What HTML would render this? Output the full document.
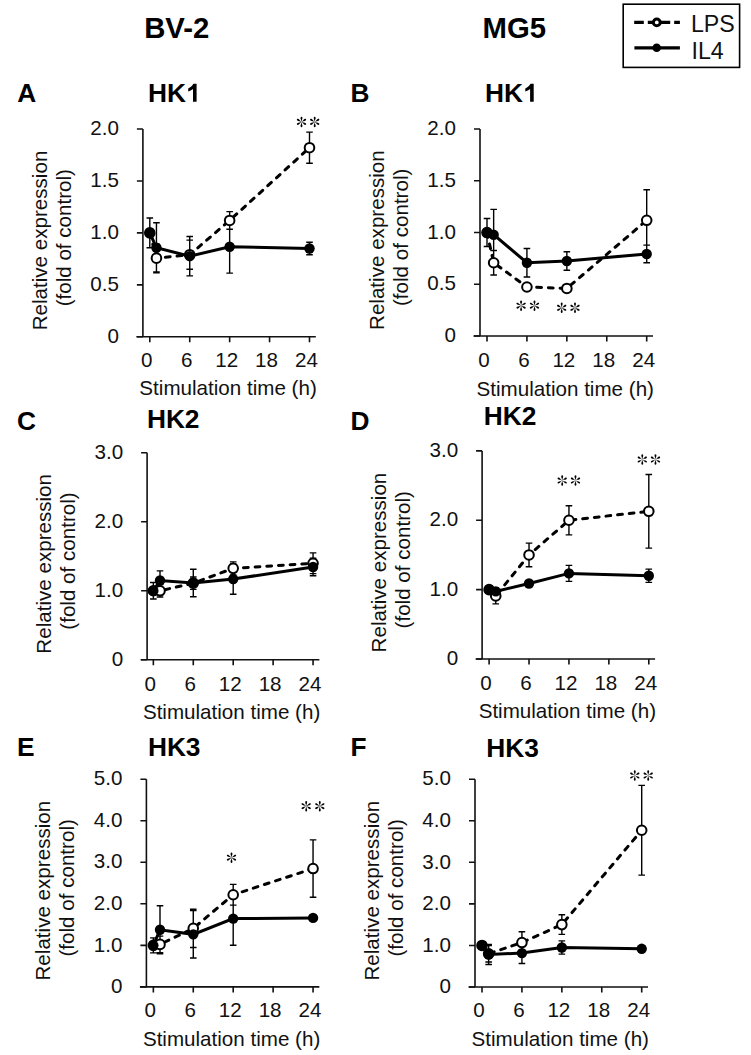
<!DOCTYPE html>
<html><head><meta charset="utf-8">
<style>
html,body{margin:0;padding:0;background:#fff;}
svg{display:block;}
text{font-family:"Liberation Sans",sans-serif;font-size:20.6px;fill:#111;}
text.b{font-weight:bold;font-size:26.3px;fill:#000;}
text.h{font-weight:bold;font-size:29.3px;fill:#000;}
text.lg{font-size:23.2px;}
.ax{fill:none;stroke:#111;stroke-width:1.6;}
.eb{fill:none;stroke:#000;stroke-width:1.4;}
.ld{fill:none;stroke:#000;stroke-width:3;stroke-dasharray:4.8,6.9;stroke-linecap:round;}
.ls{fill:none;stroke:#000;stroke-width:3;}
.mo{fill:#fff;stroke:#000;stroke-width:2;}
.mf{fill:#000;}
</style></head><body>
<svg width="751" height="1055" viewBox="0 0 751 1055">
<rect width="751" height="1055" fill="#fff"/>

<text class="h" x="144.21" y="38.2">BV-2</text>
<text class="h" x="482.51" y="38.2">MG5</text>
<rect x="623.2" y="4.2" width="116.4" height="63.2" fill="none" stroke="#000" stroke-width="1.6"/>
<path d="M634.2,22.4H643.8M647.8,22.4H670.2M674.2,22.4H679.9" stroke="#000" stroke-width="3.3"/>
<circle cx="656.8" cy="22.4" r="3.4" fill="#fff" stroke="#000" stroke-width="3"/>
<path d="M634.4,47.9H679.9" stroke="#000" stroke-width="3.2"/>
<circle cx="656.7" cy="47.8" r="4.3" fill="#000"/>
<text class="lg" x="690.89" y="31.6">LPS</text>
<text class="lg" x="691.49" y="59.3">IL4</text>

<path class="ax" d="M142.9,129V336.8M136.4,336.8H315.8"/>
<path class="ax" d="M136.9,336.8H142.9M136.9,284.85H142.9M136.9,232.9H142.9M136.9,180.95H142.9M136.9,129H142.9M149.8,336.8v5.5M189.73,336.8v5.5M229.65,336.8v5.5M269.57,336.8v5.5M309.5,336.8v5.5"/>
<text x="118.9" y="343" text-anchor="end">0</text>
<text x="118.9" y="291.05" text-anchor="end">0.5</text>
<text x="118.9" y="239.1" text-anchor="end">1.0</text>
<text x="118.9" y="187.15" text-anchor="end">1.5</text>
<text x="118.9" y="135.2" text-anchor="end">2.0</text>
<text x="146.8" y="367.2" text-anchor="middle">0</text>
<text x="186.73" y="367.2" text-anchor="middle">6</text>
<text x="226.65" y="367.2" text-anchor="middle">12</text>
<text x="266.57" y="367.2" text-anchor="middle">18</text>
<text x="306.5" y="367.2" text-anchor="middle">24</text>
<text x="228.05" y="395.4" text-anchor="middle">Stimulation time (h)</text>
<text transform="translate(46.7,240.5) rotate(-90)" text-anchor="middle">Relative expression</text>
<text transform="translate(70.7,237.7) rotate(-90)" text-anchor="middle">(fold of control)</text>
<text class="b" x="147.9" y="101.8">HK</text>
<text class="b" x="17.2" y="101.8">A</text>
<path fill="#000" transform="translate(0,0)" d="M196.6,83.8V101.8H193V88.9C191.6,90.1 190,90.9 188.2,91.4V88.4C190.5,87.6 192.2,86.1 193.4,83.8Z"/>
<path class="eb" d="M149.8,218.04V247.76M146.5,218.04h6.6M146.5,247.76h6.6M156.45,244.23V272.07M153.15,244.23h6.6M153.15,272.07h6.6M189.73,240.17V269.26M186.43,240.17h6.6M186.43,269.26h6.6M229.65,211.6V229.26M226.35,211.6h6.6M226.35,229.26h6.6M309.5,132.12V163.29M306.2,132.12h6.6M306.2,163.29h6.6M149.8,218.04V247.76M146.5,218.04h6.6M146.5,247.76h6.6M156.45,222.82V272.69M153.15,222.82h6.6M153.15,272.69h6.6M189.73,236.43V275.91M186.43,236.43h6.6M186.43,275.91h6.6M229.65,220.33V273.11M226.35,220.33h6.6M226.35,273.11h6.6M309.5,242.25V254.72M306.2,242.25h6.6M306.2,254.72h6.6"/>
<polyline class="ld" points="149.8,232.9 156.45,258.15 189.73,254.72 229.65,220.43 309.5,147.7"/>
<polyline class="ls" points="149.8,232.9 156.45,247.76 189.73,256.17 229.65,246.72 309.5,248.49"/>
<circle class="mo" cx="149.8" cy="232.9" r="4.8"/>
<circle class="mo" cx="156.45" cy="258.15" r="4.8"/>
<circle class="mo" cx="189.73" cy="254.72" r="4.8"/>
<circle class="mo" cx="229.65" cy="220.43" r="4.8"/>
<circle class="mo" cx="309.5" cy="147.7" r="4.8"/>
<circle class="mf" cx="149.8" cy="232.9" r="5.2"/>
<circle class="mf" cx="156.45" cy="247.76" r="5.2"/>
<circle class="mf" cx="189.73" cy="256.17" r="5.2"/>
<circle class="mf" cx="229.65" cy="246.72" r="5.2"/>
<circle class="mf" cx="309.5" cy="248.49" r="5.2"/>
<g transform="translate(301.5,121.9) scale(1.0)"><path d="M0,0 L-0.42,-2 C-1.3,-3.7 -1.05,-5.25 0,-5.25 C1.05,-5.25 1.3,-3.7 0.42,-2 Z" transform="rotate(0)"/><path d="M0,0 L-0.42,-2 C-1.3,-3.7 -1.05,-5.25 0,-5.25 C1.05,-5.25 1.3,-3.7 0.42,-2 Z" transform="rotate(60)"/><path d="M0,0 L-0.42,-2 C-1.3,-3.7 -1.05,-5.25 0,-5.25 C1.05,-5.25 1.3,-3.7 0.42,-2 Z" transform="rotate(120)"/><path d="M0,0 L-0.42,-2 C-1.3,-3.7 -1.05,-5.25 0,-5.25 C1.05,-5.25 1.3,-3.7 0.42,-2 Z" transform="rotate(180)"/><path d="M0,0 L-0.42,-2 C-1.3,-3.7 -1.05,-5.25 0,-5.25 C1.05,-5.25 1.3,-3.7 0.42,-2 Z" transform="rotate(240)"/><path d="M0,0 L-0.42,-2 C-1.3,-3.7 -1.05,-5.25 0,-5.25 C1.05,-5.25 1.3,-3.7 0.42,-2 Z" transform="rotate(300)"/></g>
<g transform="translate(314.7,121.9) scale(1.0)"><path d="M0,0 L-0.42,-2 C-1.3,-3.7 -1.05,-5.25 0,-5.25 C1.05,-5.25 1.3,-3.7 0.42,-2 Z" transform="rotate(0)"/><path d="M0,0 L-0.42,-2 C-1.3,-3.7 -1.05,-5.25 0,-5.25 C1.05,-5.25 1.3,-3.7 0.42,-2 Z" transform="rotate(60)"/><path d="M0,0 L-0.42,-2 C-1.3,-3.7 -1.05,-5.25 0,-5.25 C1.05,-5.25 1.3,-3.7 0.42,-2 Z" transform="rotate(120)"/><path d="M0,0 L-0.42,-2 C-1.3,-3.7 -1.05,-5.25 0,-5.25 C1.05,-5.25 1.3,-3.7 0.42,-2 Z" transform="rotate(180)"/><path d="M0,0 L-0.42,-2 C-1.3,-3.7 -1.05,-5.25 0,-5.25 C1.05,-5.25 1.3,-3.7 0.42,-2 Z" transform="rotate(240)"/><path d="M0,0 L-0.42,-2 C-1.3,-3.7 -1.05,-5.25 0,-5.25 C1.05,-5.25 1.3,-3.7 0.42,-2 Z" transform="rotate(300)"/></g>
<path class="ax" d="M480,129V336.05M473.5,336.05H653"/>
<path class="ax" d="M474,336.05H480M474,284.29H480M474,232.53H480M474,180.76H480M474,129H480M487,336.05v5.5M526.92,336.05v5.5M566.85,336.05v5.5M606.77,336.05v5.5M646.7,336.05v5.5"/>
<text x="456" y="342.25" text-anchor="end">0</text>
<text x="456" y="290.49" text-anchor="end">0.5</text>
<text x="456" y="238.72" text-anchor="end">1.0</text>
<text x="456" y="186.96" text-anchor="end">1.5</text>
<text x="456" y="135.2" text-anchor="end">2.0</text>
<text x="484" y="367.45" text-anchor="middle">0</text>
<text x="523.92" y="367.45" text-anchor="middle">6</text>
<text x="563.85" y="367.45" text-anchor="middle">12</text>
<text x="603.77" y="367.45" text-anchor="middle">18</text>
<text x="643.7" y="367.45" text-anchor="middle">24</text>
<text x="565.25" y="395.65" text-anchor="middle">Stimulation time (h)</text>
<text transform="translate(383.8,240.12) rotate(-90)" text-anchor="middle">Relative expression</text>
<text transform="translate(407.8,237.33) rotate(-90)" text-anchor="middle">(fold of control)</text>
<text class="b" x="484.9" y="101.8">HK</text>
<text class="b" x="350.6" y="101.8">B</text>
<path fill="#000" transform="translate(337.1,0)" d="M196.6,83.8V101.8H193V88.9C191.6,90.1 190,90.9 188.2,91.4V88.4C190.5,87.6 192.2,86.1 193.4,83.8Z"/>
<path class="eb" d="M487,218.55V246.5M483.7,218.55h6.6M483.7,246.5h6.6M493.65,250.54V274.97M490.35,250.54h6.6M490.35,274.97h6.6M526.92,283.87V290.08M523.62,283.87h6.6M523.62,290.08h6.6M566.85,286.36V290.5M563.55,286.36h6.6M563.55,290.5h6.6M646.7,189.77V250.85M643.4,189.77h6.6M643.4,250.85h6.6M487,218.55V246.5M483.7,218.55h6.6M483.7,246.5h6.6M493.65,209.34V260.06M490.35,209.34h6.6M490.35,260.06h6.6M526.92,248.57V276.94M523.62,248.57h6.6M523.62,276.94h6.6M566.85,251.68V270.31M563.55,251.68h6.6M563.55,270.31h6.6M646.7,245.16V262.75M643.4,245.16h6.6M643.4,262.75h6.6"/>
<polyline class="ld" points="487,232.53 493.65,262.75 526.92,286.98 566.85,288.43 646.7,220.31"/>
<polyline class="ls" points="487,232.53 493.65,234.7 526.92,262.75 566.85,260.99 646.7,253.95"/>
<circle class="mo" cx="487" cy="232.53" r="4.8"/>
<circle class="mo" cx="493.65" cy="262.75" r="4.8"/>
<circle class="mo" cx="526.92" cy="286.98" r="4.8"/>
<circle class="mo" cx="566.85" cy="288.43" r="4.8"/>
<circle class="mo" cx="646.7" cy="220.31" r="4.8"/>
<circle class="mf" cx="487" cy="232.53" r="5.2"/>
<circle class="mf" cx="493.65" cy="234.7" r="5.2"/>
<circle class="mf" cx="526.92" cy="262.75" r="5.2"/>
<circle class="mf" cx="566.85" cy="260.99" r="5.2"/>
<circle class="mf" cx="646.7" cy="253.95" r="5.2"/>
<g transform="translate(521.1,305.7) scale(1.0)"><path d="M0,0 L-0.42,-2 C-1.3,-3.7 -1.05,-5.25 0,-5.25 C1.05,-5.25 1.3,-3.7 0.42,-2 Z" transform="rotate(0)"/><path d="M0,0 L-0.42,-2 C-1.3,-3.7 -1.05,-5.25 0,-5.25 C1.05,-5.25 1.3,-3.7 0.42,-2 Z" transform="rotate(60)"/><path d="M0,0 L-0.42,-2 C-1.3,-3.7 -1.05,-5.25 0,-5.25 C1.05,-5.25 1.3,-3.7 0.42,-2 Z" transform="rotate(120)"/><path d="M0,0 L-0.42,-2 C-1.3,-3.7 -1.05,-5.25 0,-5.25 C1.05,-5.25 1.3,-3.7 0.42,-2 Z" transform="rotate(180)"/><path d="M0,0 L-0.42,-2 C-1.3,-3.7 -1.05,-5.25 0,-5.25 C1.05,-5.25 1.3,-3.7 0.42,-2 Z" transform="rotate(240)"/><path d="M0,0 L-0.42,-2 C-1.3,-3.7 -1.05,-5.25 0,-5.25 C1.05,-5.25 1.3,-3.7 0.42,-2 Z" transform="rotate(300)"/></g>
<g transform="translate(534.5,305.7) scale(1.0)"><path d="M0,0 L-0.42,-2 C-1.3,-3.7 -1.05,-5.25 0,-5.25 C1.05,-5.25 1.3,-3.7 0.42,-2 Z" transform="rotate(0)"/><path d="M0,0 L-0.42,-2 C-1.3,-3.7 -1.05,-5.25 0,-5.25 C1.05,-5.25 1.3,-3.7 0.42,-2 Z" transform="rotate(60)"/><path d="M0,0 L-0.42,-2 C-1.3,-3.7 -1.05,-5.25 0,-5.25 C1.05,-5.25 1.3,-3.7 0.42,-2 Z" transform="rotate(120)"/><path d="M0,0 L-0.42,-2 C-1.3,-3.7 -1.05,-5.25 0,-5.25 C1.05,-5.25 1.3,-3.7 0.42,-2 Z" transform="rotate(180)"/><path d="M0,0 L-0.42,-2 C-1.3,-3.7 -1.05,-5.25 0,-5.25 C1.05,-5.25 1.3,-3.7 0.42,-2 Z" transform="rotate(240)"/><path d="M0,0 L-0.42,-2 C-1.3,-3.7 -1.05,-5.25 0,-5.25 C1.05,-5.25 1.3,-3.7 0.42,-2 Z" transform="rotate(300)"/></g>
<g transform="translate(561.7,307.8) scale(1.0)"><path d="M0,0 L-0.42,-2 C-1.3,-3.7 -1.05,-5.25 0,-5.25 C1.05,-5.25 1.3,-3.7 0.42,-2 Z" transform="rotate(0)"/><path d="M0,0 L-0.42,-2 C-1.3,-3.7 -1.05,-5.25 0,-5.25 C1.05,-5.25 1.3,-3.7 0.42,-2 Z" transform="rotate(60)"/><path d="M0,0 L-0.42,-2 C-1.3,-3.7 -1.05,-5.25 0,-5.25 C1.05,-5.25 1.3,-3.7 0.42,-2 Z" transform="rotate(120)"/><path d="M0,0 L-0.42,-2 C-1.3,-3.7 -1.05,-5.25 0,-5.25 C1.05,-5.25 1.3,-3.7 0.42,-2 Z" transform="rotate(180)"/><path d="M0,0 L-0.42,-2 C-1.3,-3.7 -1.05,-5.25 0,-5.25 C1.05,-5.25 1.3,-3.7 0.42,-2 Z" transform="rotate(240)"/><path d="M0,0 L-0.42,-2 C-1.3,-3.7 -1.05,-5.25 0,-5.25 C1.05,-5.25 1.3,-3.7 0.42,-2 Z" transform="rotate(300)"/></g>
<g transform="translate(575,307.8) scale(1.0)"><path d="M0,0 L-0.42,-2 C-1.3,-3.7 -1.05,-5.25 0,-5.25 C1.05,-5.25 1.3,-3.7 0.42,-2 Z" transform="rotate(0)"/><path d="M0,0 L-0.42,-2 C-1.3,-3.7 -1.05,-5.25 0,-5.25 C1.05,-5.25 1.3,-3.7 0.42,-2 Z" transform="rotate(60)"/><path d="M0,0 L-0.42,-2 C-1.3,-3.7 -1.05,-5.25 0,-5.25 C1.05,-5.25 1.3,-3.7 0.42,-2 Z" transform="rotate(120)"/><path d="M0,0 L-0.42,-2 C-1.3,-3.7 -1.05,-5.25 0,-5.25 C1.05,-5.25 1.3,-3.7 0.42,-2 Z" transform="rotate(180)"/><path d="M0,0 L-0.42,-2 C-1.3,-3.7 -1.05,-5.25 0,-5.25 C1.05,-5.25 1.3,-3.7 0.42,-2 Z" transform="rotate(240)"/><path d="M0,0 L-0.42,-2 C-1.3,-3.7 -1.05,-5.25 0,-5.25 C1.05,-5.25 1.3,-3.7 0.42,-2 Z" transform="rotate(300)"/></g>
<path class="ax" d="M147.1,452.7V659.75M140.6,659.75H319.35"/>
<path class="ax" d="M141.1,659.75H147.1M141.1,590.73H147.1M141.1,521.72H147.1M141.1,452.7H147.1M153.35,659.75v5.5M193.27,659.75v5.5M233.2,659.75v5.5M273.12,659.75v5.5M313.05,659.75v5.5"/>
<text x="123.1" y="665.95" text-anchor="end">0</text>
<text x="123.1" y="596.93" text-anchor="end">1.0</text>
<text x="123.1" y="527.92" text-anchor="end">2.0</text>
<text x="123.1" y="458.9" text-anchor="end">3.0</text>
<text x="150.35" y="690.95" text-anchor="middle">0</text>
<text x="190.27" y="690.95" text-anchor="middle">6</text>
<text x="230.2" y="690.95" text-anchor="middle">12</text>
<text x="270.12" y="690.95" text-anchor="middle">18</text>
<text x="310.05" y="690.95" text-anchor="middle">24</text>
<text x="231.6" y="718.95" text-anchor="middle">Stimulation time (h)</text>
<text transform="translate(50.9,563.83) rotate(-90)" text-anchor="middle">Relative expression</text>
<text transform="translate(74.9,561.02) rotate(-90)" text-anchor="middle">(fold of control)</text>
<text class="b" x="146.9" y="427.8">HK2</text>
<text class="b" x="16.9" y="430">C</text>
<path class="eb" d="M153.35,582.45V599.02M150.05,582.45h6.6M150.05,599.02h6.6M160,584.59V597.01M156.7,584.59h6.6M156.7,597.01h6.6M193.27,576.93V589.35M189.97,576.93h6.6M189.97,589.35h6.6M233.2,561.88V574.86M229.9,561.88h6.6M229.9,574.86h6.6M313.05,552.91V573.62M309.75,552.91h6.6M309.75,573.62h6.6M153.35,582.45V599.02M150.05,582.45h6.6M150.05,599.02h6.6M160,570.86V590.18M156.7,570.86h6.6M156.7,590.18h6.6M193.27,569.2V596.81M189.97,569.2h6.6M189.97,596.81h6.6M233.2,563.89V594.25M229.9,563.89h6.6M229.9,594.25h6.6M313.05,558.23V575.76M309.75,558.23h6.6M309.75,575.76h6.6"/>
<polyline class="ld" points="153.35,590.73 160,590.8 193.27,583.14 233.2,568.37 313.05,563.26"/>
<polyline class="ls" points="153.35,590.73 160,580.52 193.27,583 233.2,579.07 313.05,566.99"/>
<circle class="mo" cx="153.35" cy="590.73" r="4.8"/>
<circle class="mo" cx="160" cy="590.8" r="4.8"/>
<circle class="mo" cx="193.27" cy="583.14" r="4.8"/>
<circle class="mo" cx="233.2" cy="568.37" r="4.8"/>
<circle class="mo" cx="313.05" cy="563.26" r="4.8"/>
<circle class="mf" cx="153.35" cy="590.73" r="5.2"/>
<circle class="mf" cx="160" cy="580.52" r="5.2"/>
<circle class="mf" cx="193.27" cy="583" r="5.2"/>
<circle class="mf" cx="233.2" cy="579.07" r="5.2"/>
<circle class="mf" cx="313.05" cy="566.99" r="5.2"/>
<path class="ax" d="M482.1,450.9V659M475.6,659H655.1"/>
<path class="ax" d="M476.1,659H482.1M476.1,589.63H482.1M476.1,520.27H482.1M476.1,450.9H482.1M489.1,659v5.5M529.02,659v5.5M568.95,659v5.5M608.88,659v5.5M648.8,659v5.5"/>
<text x="458.1" y="665.2" text-anchor="end">0</text>
<text x="458.1" y="595.83" text-anchor="end">1.0</text>
<text x="458.1" y="526.47" text-anchor="end">2.0</text>
<text x="458.1" y="457.1" text-anchor="end">3.0</text>
<text x="486.1" y="690.4" text-anchor="middle">0</text>
<text x="526.02" y="690.4" text-anchor="middle">6</text>
<text x="565.95" y="690.4" text-anchor="middle">12</text>
<text x="605.88" y="690.4" text-anchor="middle">18</text>
<text x="645.8" y="690.4" text-anchor="middle">24</text>
<text x="567.35" y="718.3" text-anchor="middle">Stimulation time (h)</text>
<text transform="translate(385.9,562.55) rotate(-90)" text-anchor="middle">Relative expression</text>
<text transform="translate(409.9,559.75) rotate(-90)" text-anchor="middle">(fold of control)</text>
<text class="b" x="483.8" y="425">HK2</text>
<text class="b" x="350.6" y="430.2">D</text>
<path class="eb" d="M489.1,586.16V593.1M485.8,586.16h6.6M485.8,593.1h6.6M495.75,587.97V603.92M492.45,587.97h6.6M492.45,603.92h6.6M529.02,543.16V566.74M525.73,543.16h6.6M525.73,566.74h6.6M568.95,505.7V534.83M565.65,505.7h6.6M565.65,534.83h6.6M648.8,474.55V548.08M645.5,474.55h6.6M645.5,548.08h6.6M489.1,586.16V593.1M485.8,586.16h6.6M485.8,593.1h6.6M495.75,587.9V594.84M492.45,587.9h6.6M492.45,594.84h6.6M529.02,581.45V585.61M525.73,581.45h6.6M525.73,585.61h6.6M568.95,565.42V581.38M565.65,565.42h6.6M565.65,581.38h6.6M648.8,569.17V582.35M645.5,569.17h6.6M645.5,582.35h6.6"/>
<polyline class="ld" points="489.1,589.63 495.75,595.95 529.02,554.95 568.95,520.27 648.8,511.32"/>
<polyline class="ls" points="489.1,589.63 495.75,591.37 529.02,583.53 568.95,573.4 648.8,575.76"/>
<circle class="mo" cx="489.1" cy="589.63" r="4.8"/>
<circle class="mo" cx="495.75" cy="595.95" r="4.8"/>
<circle class="mo" cx="529.02" cy="554.95" r="4.8"/>
<circle class="mo" cx="568.95" cy="520.27" r="4.8"/>
<circle class="mo" cx="648.8" cy="511.32" r="4.8"/>
<circle class="mf" cx="489.1" cy="589.63" r="5.2"/>
<circle class="mf" cx="495.75" cy="591.37" r="5.2"/>
<circle class="mf" cx="529.02" cy="583.53" r="5.2"/>
<circle class="mf" cx="568.95" cy="573.4" r="5.2"/>
<circle class="mf" cx="648.8" cy="575.76" r="5.2"/>
<g transform="translate(562.2,480.5) scale(1.0)"><path d="M0,0 L-0.42,-2 C-1.3,-3.7 -1.05,-5.25 0,-5.25 C1.05,-5.25 1.3,-3.7 0.42,-2 Z" transform="rotate(0)"/><path d="M0,0 L-0.42,-2 C-1.3,-3.7 -1.05,-5.25 0,-5.25 C1.05,-5.25 1.3,-3.7 0.42,-2 Z" transform="rotate(60)"/><path d="M0,0 L-0.42,-2 C-1.3,-3.7 -1.05,-5.25 0,-5.25 C1.05,-5.25 1.3,-3.7 0.42,-2 Z" transform="rotate(120)"/><path d="M0,0 L-0.42,-2 C-1.3,-3.7 -1.05,-5.25 0,-5.25 C1.05,-5.25 1.3,-3.7 0.42,-2 Z" transform="rotate(180)"/><path d="M0,0 L-0.42,-2 C-1.3,-3.7 -1.05,-5.25 0,-5.25 C1.05,-5.25 1.3,-3.7 0.42,-2 Z" transform="rotate(240)"/><path d="M0,0 L-0.42,-2 C-1.3,-3.7 -1.05,-5.25 0,-5.25 C1.05,-5.25 1.3,-3.7 0.42,-2 Z" transform="rotate(300)"/></g>
<g transform="translate(575.5,480.5) scale(1.0)"><path d="M0,0 L-0.42,-2 C-1.3,-3.7 -1.05,-5.25 0,-5.25 C1.05,-5.25 1.3,-3.7 0.42,-2 Z" transform="rotate(0)"/><path d="M0,0 L-0.42,-2 C-1.3,-3.7 -1.05,-5.25 0,-5.25 C1.05,-5.25 1.3,-3.7 0.42,-2 Z" transform="rotate(60)"/><path d="M0,0 L-0.42,-2 C-1.3,-3.7 -1.05,-5.25 0,-5.25 C1.05,-5.25 1.3,-3.7 0.42,-2 Z" transform="rotate(120)"/><path d="M0,0 L-0.42,-2 C-1.3,-3.7 -1.05,-5.25 0,-5.25 C1.05,-5.25 1.3,-3.7 0.42,-2 Z" transform="rotate(180)"/><path d="M0,0 L-0.42,-2 C-1.3,-3.7 -1.05,-5.25 0,-5.25 C1.05,-5.25 1.3,-3.7 0.42,-2 Z" transform="rotate(240)"/><path d="M0,0 L-0.42,-2 C-1.3,-3.7 -1.05,-5.25 0,-5.25 C1.05,-5.25 1.3,-3.7 0.42,-2 Z" transform="rotate(300)"/></g>
<g transform="translate(642.3,459.5) scale(1.0)"><path d="M0,0 L-0.42,-2 C-1.3,-3.7 -1.05,-5.25 0,-5.25 C1.05,-5.25 1.3,-3.7 0.42,-2 Z" transform="rotate(0)"/><path d="M0,0 L-0.42,-2 C-1.3,-3.7 -1.05,-5.25 0,-5.25 C1.05,-5.25 1.3,-3.7 0.42,-2 Z" transform="rotate(60)"/><path d="M0,0 L-0.42,-2 C-1.3,-3.7 -1.05,-5.25 0,-5.25 C1.05,-5.25 1.3,-3.7 0.42,-2 Z" transform="rotate(120)"/><path d="M0,0 L-0.42,-2 C-1.3,-3.7 -1.05,-5.25 0,-5.25 C1.05,-5.25 1.3,-3.7 0.42,-2 Z" transform="rotate(180)"/><path d="M0,0 L-0.42,-2 C-1.3,-3.7 -1.05,-5.25 0,-5.25 C1.05,-5.25 1.3,-3.7 0.42,-2 Z" transform="rotate(240)"/><path d="M0,0 L-0.42,-2 C-1.3,-3.7 -1.05,-5.25 0,-5.25 C1.05,-5.25 1.3,-3.7 0.42,-2 Z" transform="rotate(300)"/></g>
<g transform="translate(655.5,459.5) scale(1.0)"><path d="M0,0 L-0.42,-2 C-1.3,-3.7 -1.05,-5.25 0,-5.25 C1.05,-5.25 1.3,-3.7 0.42,-2 Z" transform="rotate(0)"/><path d="M0,0 L-0.42,-2 C-1.3,-3.7 -1.05,-5.25 0,-5.25 C1.05,-5.25 1.3,-3.7 0.42,-2 Z" transform="rotate(60)"/><path d="M0,0 L-0.42,-2 C-1.3,-3.7 -1.05,-5.25 0,-5.25 C1.05,-5.25 1.3,-3.7 0.42,-2 Z" transform="rotate(120)"/><path d="M0,0 L-0.42,-2 C-1.3,-3.7 -1.05,-5.25 0,-5.25 C1.05,-5.25 1.3,-3.7 0.42,-2 Z" transform="rotate(180)"/><path d="M0,0 L-0.42,-2 C-1.3,-3.7 -1.05,-5.25 0,-5.25 C1.05,-5.25 1.3,-3.7 0.42,-2 Z" transform="rotate(240)"/><path d="M0,0 L-0.42,-2 C-1.3,-3.7 -1.05,-5.25 0,-5.25 C1.05,-5.25 1.3,-3.7 0.42,-2 Z" transform="rotate(300)"/></g>
<path class="ax" d="M146.4,779.2V986.9M139.9,986.9H319.35"/>
<path class="ax" d="M140.4,986.9H146.4M140.4,945.36H146.4M140.4,903.82H146.4M140.4,862.28H146.4M140.4,820.74H146.4M140.4,779.2H146.4M153.35,986.9v5.5M193.27,986.9v5.5M233.2,986.9v5.5M273.12,986.9v5.5M313.05,986.9v5.5"/>
<text x="122.4" y="993.1" text-anchor="end">0</text>
<text x="122.4" y="951.56" text-anchor="end">1.0</text>
<text x="122.4" y="910.02" text-anchor="end">2.0</text>
<text x="122.4" y="868.48" text-anchor="end">3.0</text>
<text x="122.4" y="826.94" text-anchor="end">4.0</text>
<text x="122.4" y="785.4" text-anchor="end">5.0</text>
<text x="150.35" y="1017.3" text-anchor="middle">0</text>
<text x="190.27" y="1017.3" text-anchor="middle">6</text>
<text x="230.2" y="1017.3" text-anchor="middle">12</text>
<text x="270.12" y="1017.3" text-anchor="middle">18</text>
<text x="310.05" y="1017.3" text-anchor="middle">24</text>
<text x="231.6" y="1045.8" text-anchor="middle">Stimulation time (h)</text>
<text transform="translate(50.2,890.65) rotate(-90)" text-anchor="middle">Relative expression</text>
<text transform="translate(74.2,887.85) rotate(-90)" text-anchor="middle">(fold of control)</text>
<text class="b" x="147.9" y="756.4">HK3</text>
<text class="b" x="16.9" y="756.4">E</text>
<path class="eb" d="M153.35,937.88V952.84M150.05,937.88h6.6M150.05,952.84h6.6M160,936.1V952.71M156.7,936.1h6.6M156.7,952.71h6.6M193.27,909.26V947.48M189.97,909.26h6.6M189.97,947.48h6.6M233.2,884.38V905.15M229.9,884.38h6.6M229.9,905.15h6.6M313.05,839.89V897.22M309.75,839.89h6.6M309.75,897.22h6.6M153.35,937.88V952.84M150.05,937.88h6.6M150.05,952.84h6.6M160,905.69V953.88M156.7,905.69h6.6M156.7,953.88h6.6M193.27,910.67V958.03M189.97,910.67h6.6M189.97,958.03h6.6M233.2,892.02V945.19M229.9,892.02h6.6M229.9,945.19h6.6M313.05,916.66V919.15M309.75,916.66h6.6M309.75,919.15h6.6"/>
<polyline class="ld" points="153.35,945.36 160,944.4 193.27,928.37 233.2,894.76 313.05,868.55"/>
<polyline class="ls" points="153.35,945.36 160,929.78 193.27,934.35 233.2,918.61 313.05,917.9"/>
<circle class="mo" cx="153.35" cy="945.36" r="4.8"/>
<circle class="mo" cx="160" cy="944.4" r="4.8"/>
<circle class="mo" cx="193.27" cy="928.37" r="4.8"/>
<circle class="mo" cx="233.2" cy="894.76" r="4.8"/>
<circle class="mo" cx="313.05" cy="868.55" r="4.8"/>
<circle class="mf" cx="153.35" cy="945.36" r="5.2"/>
<circle class="mf" cx="160" cy="929.78" r="5.2"/>
<circle class="mf" cx="193.27" cy="934.35" r="5.2"/>
<circle class="mf" cx="233.2" cy="918.61" r="5.2"/>
<circle class="mf" cx="313.05" cy="917.9" r="5.2"/>
<g transform="translate(231.5,857.7) scale(1.0)"><path d="M0,0 L-0.42,-2 C-1.3,-3.7 -1.05,-5.25 0,-5.25 C1.05,-5.25 1.3,-3.7 0.42,-2 Z" transform="rotate(0)"/><path d="M0,0 L-0.42,-2 C-1.3,-3.7 -1.05,-5.25 0,-5.25 C1.05,-5.25 1.3,-3.7 0.42,-2 Z" transform="rotate(60)"/><path d="M0,0 L-0.42,-2 C-1.3,-3.7 -1.05,-5.25 0,-5.25 C1.05,-5.25 1.3,-3.7 0.42,-2 Z" transform="rotate(120)"/><path d="M0,0 L-0.42,-2 C-1.3,-3.7 -1.05,-5.25 0,-5.25 C1.05,-5.25 1.3,-3.7 0.42,-2 Z" transform="rotate(180)"/><path d="M0,0 L-0.42,-2 C-1.3,-3.7 -1.05,-5.25 0,-5.25 C1.05,-5.25 1.3,-3.7 0.42,-2 Z" transform="rotate(240)"/><path d="M0,0 L-0.42,-2 C-1.3,-3.7 -1.05,-5.25 0,-5.25 C1.05,-5.25 1.3,-3.7 0.42,-2 Z" transform="rotate(300)"/></g>
<g transform="translate(306.2,806.2) scale(1.0)"><path d="M0,0 L-0.42,-2 C-1.3,-3.7 -1.05,-5.25 0,-5.25 C1.05,-5.25 1.3,-3.7 0.42,-2 Z" transform="rotate(0)"/><path d="M0,0 L-0.42,-2 C-1.3,-3.7 -1.05,-5.25 0,-5.25 C1.05,-5.25 1.3,-3.7 0.42,-2 Z" transform="rotate(60)"/><path d="M0,0 L-0.42,-2 C-1.3,-3.7 -1.05,-5.25 0,-5.25 C1.05,-5.25 1.3,-3.7 0.42,-2 Z" transform="rotate(120)"/><path d="M0,0 L-0.42,-2 C-1.3,-3.7 -1.05,-5.25 0,-5.25 C1.05,-5.25 1.3,-3.7 0.42,-2 Z" transform="rotate(180)"/><path d="M0,0 L-0.42,-2 C-1.3,-3.7 -1.05,-5.25 0,-5.25 C1.05,-5.25 1.3,-3.7 0.42,-2 Z" transform="rotate(240)"/><path d="M0,0 L-0.42,-2 C-1.3,-3.7 -1.05,-5.25 0,-5.25 C1.05,-5.25 1.3,-3.7 0.42,-2 Z" transform="rotate(300)"/></g>
<g transform="translate(319.8,806.2) scale(1.0)"><path d="M0,0 L-0.42,-2 C-1.3,-3.7 -1.05,-5.25 0,-5.25 C1.05,-5.25 1.3,-3.7 0.42,-2 Z" transform="rotate(0)"/><path d="M0,0 L-0.42,-2 C-1.3,-3.7 -1.05,-5.25 0,-5.25 C1.05,-5.25 1.3,-3.7 0.42,-2 Z" transform="rotate(60)"/><path d="M0,0 L-0.42,-2 C-1.3,-3.7 -1.05,-5.25 0,-5.25 C1.05,-5.25 1.3,-3.7 0.42,-2 Z" transform="rotate(120)"/><path d="M0,0 L-0.42,-2 C-1.3,-3.7 -1.05,-5.25 0,-5.25 C1.05,-5.25 1.3,-3.7 0.42,-2 Z" transform="rotate(180)"/><path d="M0,0 L-0.42,-2 C-1.3,-3.7 -1.05,-5.25 0,-5.25 C1.05,-5.25 1.3,-3.7 0.42,-2 Z" transform="rotate(240)"/><path d="M0,0 L-0.42,-2 C-1.3,-3.7 -1.05,-5.25 0,-5.25 C1.05,-5.25 1.3,-3.7 0.42,-2 Z" transform="rotate(300)"/></g>
<path class="ax" d="M475,779.2V987M468.5,987H648"/>
<path class="ax" d="M469,987H475M469,945.44H475M469,903.88H475M469,862.32H475M469,820.76H475M469,779.2H475M482,987v5.5M521.92,987v5.5M561.85,987v5.5M601.77,987v5.5M641.7,987v5.5"/>
<text x="451" y="993.2" text-anchor="end">0</text>
<text x="451" y="951.64" text-anchor="end">1.0</text>
<text x="451" y="910.08" text-anchor="end">2.0</text>
<text x="451" y="868.52" text-anchor="end">3.0</text>
<text x="451" y="826.96" text-anchor="end">4.0</text>
<text x="451" y="785.4" text-anchor="end">5.0</text>
<text x="479" y="1017.4" text-anchor="middle">0</text>
<text x="518.92" y="1017.4" text-anchor="middle">6</text>
<text x="558.85" y="1017.4" text-anchor="middle">12</text>
<text x="598.77" y="1017.4" text-anchor="middle">18</text>
<text x="638.7" y="1017.4" text-anchor="middle">24</text>
<text x="560.25" y="1045.9" text-anchor="middle">Stimulation time (h)</text>
<text transform="translate(378.8,890.7) rotate(-90)" text-anchor="middle">Relative expression</text>
<text transform="translate(402.8,887.9) rotate(-90)" text-anchor="middle">(fold of control)</text>
<text class="b" x="486.3" y="756.6">HK3</text>
<text class="b" x="350.6" y="756.4">F</text>
<path class="eb" d="M482,943.36V947.52M478.7,943.36h6.6M478.7,947.52h6.6M488.65,945.44V962.06M485.35,945.44h6.6M485.35,962.06h6.6M521.92,931.73V953.34M518.62,931.73h6.6M518.62,953.34h6.6M561.85,914.81V934.34M558.55,914.81h6.6M558.55,934.34h6.6M641.7,785.35V875.12M638.4,785.35h6.6M638.4,875.12h6.6M482,943.36V947.52M478.7,943.36h6.6M478.7,947.52h6.6M488.65,944.53V964.47M485.35,944.53h6.6M485.35,964.47h6.6M521.92,942.7V963.48M518.62,942.7h6.6M518.62,963.48h6.6M561.85,940.87V954.17M558.55,940.87h6.6M558.55,954.17h6.6M641.7,947.14V950.47M638.4,947.14h6.6M638.4,950.47h6.6"/>
<polyline class="ld" points="482,945.44 488.65,953.75 521.92,942.53 561.85,924.58 641.7,830.24"/>
<polyline class="ls" points="482,945.44 488.65,954.5 521.92,953.09 561.85,947.52 641.7,948.81"/>
<circle class="mo" cx="482" cy="945.44" r="4.8"/>
<circle class="mo" cx="488.65" cy="953.75" r="4.8"/>
<circle class="mo" cx="521.92" cy="942.53" r="4.8"/>
<circle class="mo" cx="561.85" cy="924.58" r="4.8"/>
<circle class="mo" cx="641.7" cy="830.24" r="4.8"/>
<circle class="mf" cx="482" cy="945.44" r="5.2"/>
<circle class="mf" cx="488.65" cy="954.5" r="5.2"/>
<circle class="mf" cx="521.92" cy="953.09" r="5.2"/>
<circle class="mf" cx="561.85" cy="947.52" r="5.2"/>
<circle class="mf" cx="641.7" cy="948.81" r="5.2"/>
<g transform="translate(634.8,775.5) scale(1.0)"><path d="M0,0 L-0.42,-2 C-1.3,-3.7 -1.05,-5.25 0,-5.25 C1.05,-5.25 1.3,-3.7 0.42,-2 Z" transform="rotate(0)"/><path d="M0,0 L-0.42,-2 C-1.3,-3.7 -1.05,-5.25 0,-5.25 C1.05,-5.25 1.3,-3.7 0.42,-2 Z" transform="rotate(60)"/><path d="M0,0 L-0.42,-2 C-1.3,-3.7 -1.05,-5.25 0,-5.25 C1.05,-5.25 1.3,-3.7 0.42,-2 Z" transform="rotate(120)"/><path d="M0,0 L-0.42,-2 C-1.3,-3.7 -1.05,-5.25 0,-5.25 C1.05,-5.25 1.3,-3.7 0.42,-2 Z" transform="rotate(180)"/><path d="M0,0 L-0.42,-2 C-1.3,-3.7 -1.05,-5.25 0,-5.25 C1.05,-5.25 1.3,-3.7 0.42,-2 Z" transform="rotate(240)"/><path d="M0,0 L-0.42,-2 C-1.3,-3.7 -1.05,-5.25 0,-5.25 C1.05,-5.25 1.3,-3.7 0.42,-2 Z" transform="rotate(300)"/></g>
<g transform="translate(648.2,775.5) scale(1.0)"><path d="M0,0 L-0.42,-2 C-1.3,-3.7 -1.05,-5.25 0,-5.25 C1.05,-5.25 1.3,-3.7 0.42,-2 Z" transform="rotate(0)"/><path d="M0,0 L-0.42,-2 C-1.3,-3.7 -1.05,-5.25 0,-5.25 C1.05,-5.25 1.3,-3.7 0.42,-2 Z" transform="rotate(60)"/><path d="M0,0 L-0.42,-2 C-1.3,-3.7 -1.05,-5.25 0,-5.25 C1.05,-5.25 1.3,-3.7 0.42,-2 Z" transform="rotate(120)"/><path d="M0,0 L-0.42,-2 C-1.3,-3.7 -1.05,-5.25 0,-5.25 C1.05,-5.25 1.3,-3.7 0.42,-2 Z" transform="rotate(180)"/><path d="M0,0 L-0.42,-2 C-1.3,-3.7 -1.05,-5.25 0,-5.25 C1.05,-5.25 1.3,-3.7 0.42,-2 Z" transform="rotate(240)"/><path d="M0,0 L-0.42,-2 C-1.3,-3.7 -1.05,-5.25 0,-5.25 C1.05,-5.25 1.3,-3.7 0.42,-2 Z" transform="rotate(300)"/></g>
</svg>
</body></html>
